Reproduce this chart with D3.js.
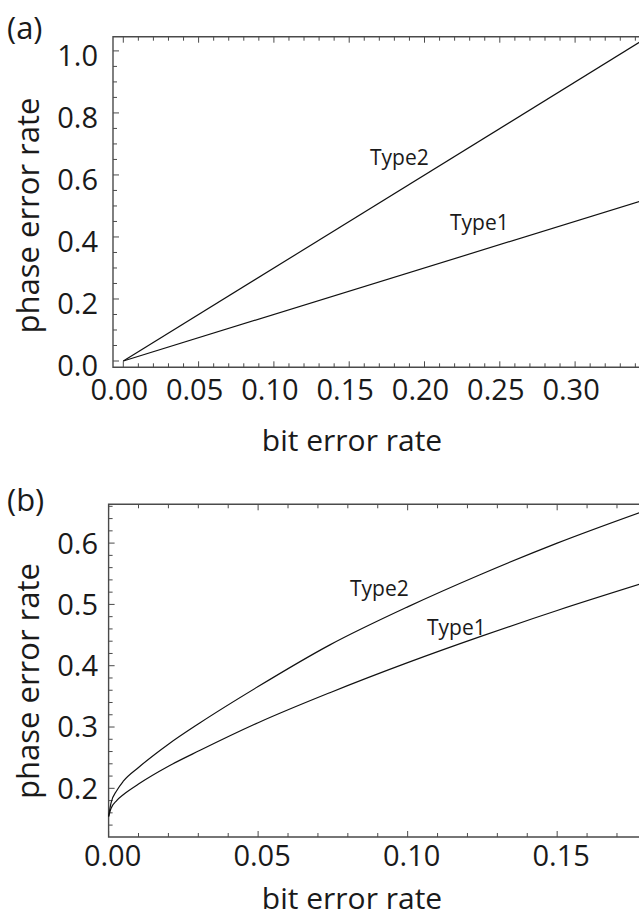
<!DOCTYPE html>
<html>
<head>
<meta charset="utf-8">
<script src="https://cdn.jsdelivr.net/npm/d3@7"></script>
<style>
  body { margin: 0; background: #fff; }
  svg text { font-family: "Open Sans", "DejaVu Sans", sans-serif; fill: #1a1a1a; }
</style>
</head>
<body>
<div id="chart"></div>
<script>
// panel (a): linear relation
var berA = [0, 0.3431];
var type1A = [0, 0.515];
var type2A = [0, 1.029];

// panel (b): curved relation
var berB = [0, 0.0008, 0.0027, 0.005, 0.01, 0.02, 0.0306, 0.05, 0.074, 0.1, 0.124, 0.15, 0.1777];
var type1B = [0.154, 0.167, 0.180, 0.190, 0.207, 0.236, 0.262, 0.307, 0.356, 0.405, 0.447, 0.490, 0.533];
var type2B = [0.154, 0.176, 0.196, 0.212, 0.234, 0.272, 0.307, 0.366, 0.434, 0.496, 0.548, 0.600, 0.650];

var xTicksA = [0, 0.05, 0.10, 0.15, 0.20, 0.25, 0.30];
var yTicksA = [0, 0.2, 0.4, 0.6, 0.8, 1.0];
var xTicksB = [0, 0.05, 0.10, 0.15];
var yTicksB = [0.2, 0.3, 0.4, 0.5, 0.6];

var width = 639, height = 921;

var svg = d3.select("#chart")
            .append("svg")
            .attr("width", width)
            .attr("height", height);

var drawPanel = function(p) {
  var g = svg.append("g");
  var x = d3.scaleLinear().domain(p.xDomain).range([p.left, 640]);
  var y = d3.scaleLinear().domain(p.yDomain).range([p.bottom, p.top]);

  // frame (right side falls outside the picture)
  g.append("path")
   .attr("d", "M640," + p.top + "H" + p.left + "V" + p.bottom + "H640")
   .attr("fill", "none")
   .attr("stroke", "#4a4a4a")
   .attr("stroke-width", 1.4);

  // bottom / top ticks
  var xs = d3.range(0, p.xDomain[1] + 1e-9, p.xMinor);
  xs.forEach(function(v) {
    var major = Math.abs(v / p.xMajor - Math.round(v / p.xMajor)) < 1e-6;
    var len = major ? 6 : 4;
    g.append("line")
     .attr("x1", x(v)).attr("x2", x(v))
     .attr("y1", p.bottom).attr("y2", p.bottom - len)
     .attr("stroke", "#4a4a4a").attr("stroke-width", 1);
    g.append("line")
     .attr("x1", x(v)).attr("x2", x(v))
     .attr("y1", p.top).attr("y2", p.top + len)
     .attr("stroke", "#4a4a4a").attr("stroke-width", 1);
  });

  // left ticks
  var ys = d3.range(p.yStart, p.yDomain[1] + 1e-9, p.yMinor);
  ys.forEach(function(v) {
    var major = Math.abs(v / p.yMajor - Math.round(v / p.yMajor)) < 1e-6;
    g.append("line")
     .attr("x1", p.left).attr("x2", p.left + (major ? 6 : 4))
     .attr("y1", y(v)).attr("y2", y(v))
     .attr("stroke", "#4a4a4a").attr("stroke-width", 1);
  });

  // tick labels
  g.selectAll(".xl")
   .data(p.xTicks)
   .enter()
   .append("text")
   .attr("x", function(d) { return x(d) + p.xLabelShift; })
   .attr("y", p.bottom + p.xLabelGap)
   .attr("text-anchor", "middle")
   .style("font-size", "29px")
   .text(function(d) { return d.toFixed(2); });

  g.selectAll(".yl")
   .data(p.yTicks)
   .enter()
   .append("text")
   .attr("x", 98)
   .attr("y", function(d) { return y(d) + p.yLabelShift; })
   .attr("dy", "0.36em")
   .attr("text-anchor", "end")
   .style("font-size", "29px")
   .text(function(d) { return d.toFixed(1); });

  // curves
  var line = d3.line()
               .x(function(d) { return x(d[0]); })
               .y(function(d) { return y(d[1]); })
               .curve(p.curve);

  [p.type1, p.type2].forEach(function(s) {
    g.append("path")
     .datum(p.ber.map(function(b, i) { return [b, s[i]]; }))
     .attr("d", line)
     .attr("fill", "none")
     .attr("stroke", "#111")
     .attr("stroke-width", 1.2);
  });

  // curve names
  p.names.forEach(function(n) {
    g.append("text")
     .attr("x", n.x).attr("y", n.y)
     .style("font-size", "21px")
     .text(n.text);
  });

  // axis titles
  g.append("text")
   .attr("x", 352).attr("y", p.xTitleY)
   .attr("text-anchor", "middle")
   .style("font-size", "30px")
   .text("bit error rate");

  g.append("text")
   .attr("transform", "translate(39," + p.yTitleY + ") rotate(-90)")
   .attr("text-anchor", "middle")
   .style("font-size", "31px")
   .text("phase error rate");

  g.append("text")
   .attr("x", 7).attr("y", p.tagY)
   .style("font-size", "31px")
   .text(p.tag);
};

drawPanel({
  tag: "(a)", tagY: 39,
  left: 113, top: 36.7, bottom: 367.3,
  xDomain: [-0.00684, 0.34309], yDomain: [-0.0203, 1.0458],
  xMajor: 0.05, xMinor: 0.01, yMajor: 0.2, yMinor: 0.05, yStart: 0,
  xTicks: xTicksA, yTicks: yTicksA,
  xLabelShift: -4, xLabelGap: 33, yLabelShift: 5,
  ber: berA, type1: type1A, type2: type2A, curve: d3.curveLinear,
  names: [{ text: "Type2", x: 370, y: 165 }, { text: "Type1", x: 450, y: 230 }],
  xTitleY: 451, yTitleY: 215.5
});

drawPanel({
  tag: "(b)", tagY: 511,
  left: 108.6, top: 504.3, bottom: 837,
  xDomain: [0, 0.1777], yDomain: [0.1206, 0.6633],
  xMajor: 0.05, xMinor: 0.01, yMajor: 0.1, yMinor: 0.02, yStart: 0.14,
  xTicks: xTicksB, yTicks: yTicksB,
  xLabelShift: 4, xLabelGap: 29, yLabelShift: 0,
  ber: berB, type1: type1B, type2: type2B, curve: d3.curveMonotoneX,
  names: [{ text: "Type2", x: 350, y: 596 }, { text: "Type1", x: 427, y: 635 }],
  xTitleY: 909, yTitleY: 681
});
</script>
</body>
</html>
